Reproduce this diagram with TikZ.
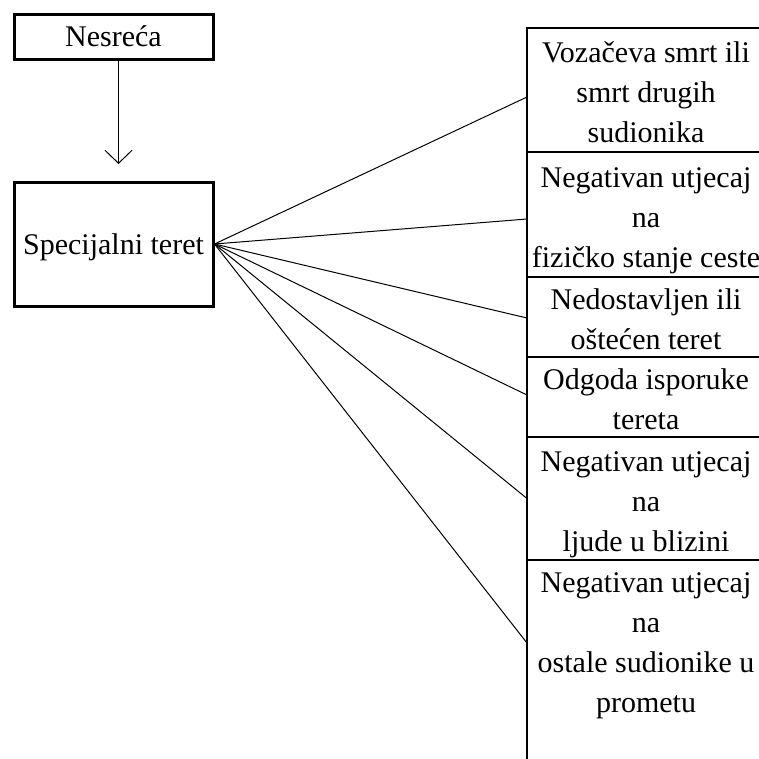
\documentclass[tikz,border=0pt]{standalone}
\usepackage{fontspec}
\setmainfont{Liberation Serif}
\usetikzlibrary{arrows.meta}
\newcommand\lnstrut{\rule[-7.5pt]{0pt}{40pt}}
\begin{document}
\begin{tikzpicture}[x=1pt,y=-1pt,
  thickbox/.style={draw,line width=3pt,rectangle,inner sep=0pt,minimum width=199pt,font=\fontsize{30}{36}\selectfont},
  colbox/.style={draw,line width=1.2pt,rectangle,inner sep=0pt,outer sep=0pt,minimum width=238pt,anchor=north west,align=center,font=\fontsize{30}{40}\selectfont},
  conn/.style={line width=1pt}]
\useasboundingbox (0,0) rectangle (759,758);
\clip (0,0) rectangle (759,758);
\fill[white] (0,0) rectangle (759,758);

\node[thickbox,minimum height=45pt] (nes) at (113.5,36.5) {Nesreća};
\node[thickbox,minimum height=124pt,text height=22pt,text depth=2pt] (spec) at (113.5,244) {Specijalni teret};

\coordinate (tip) at (118.5,164);
\draw[conn,-{Straight Barb[length=13pt,width=27pt]}] (nes.south -| tip) -- (tip);

\node[colbox,minimum height=124pt] (b1) at (527,28) {\lnstrut Vozačeva smrt ili\\\lnstrut smrt drugih\\\lnstrut sudionika};
\node[colbox,minimum height=125pt] (b2) at (527,152) {\lnstrut Negativan utjecaj\\\lnstrut na\\\lnstrut fizičko stanje ceste};
\node[colbox,minimum height=80pt] (b3) at (527,277) {\lnstrut Nedostavljen ili\\\lnstrut oštećen teret};
\node[colbox,minimum height=80pt] (b4) at (527,357) {\lnstrut Odgoda isporuke\\\lnstrut tereta};
\node[colbox,minimum height=123pt] (b5) at (527,437) {\lnstrut Negativan utjecaj\\\lnstrut na\\\lnstrut ljude u blizini};
\node[colbox,minimum height=200pt] (b6) at (527,560) {\lnstrut Negativan utjecaj\\\lnstrut na\\\lnstrut ostale sudionike u\\\lnstrut prometu\\\lnstrut};

\draw[conn] (spec.east) -- ([yshift=-7pt]b1.west);
\draw[conn] (spec.east) -- ([yshift=-4.5pt]b2.west);
\draw[conn] (spec.east) -- ([yshift=-1pt]b3.west);
\draw[conn] (spec.east) -- ([yshift=2pt]b4.west);
\draw[conn] (spec.east) -- (b5.west);
\draw[conn] (spec.east) -- ([yshift=17pt]b6.west);
\end{tikzpicture}
\end{document}
